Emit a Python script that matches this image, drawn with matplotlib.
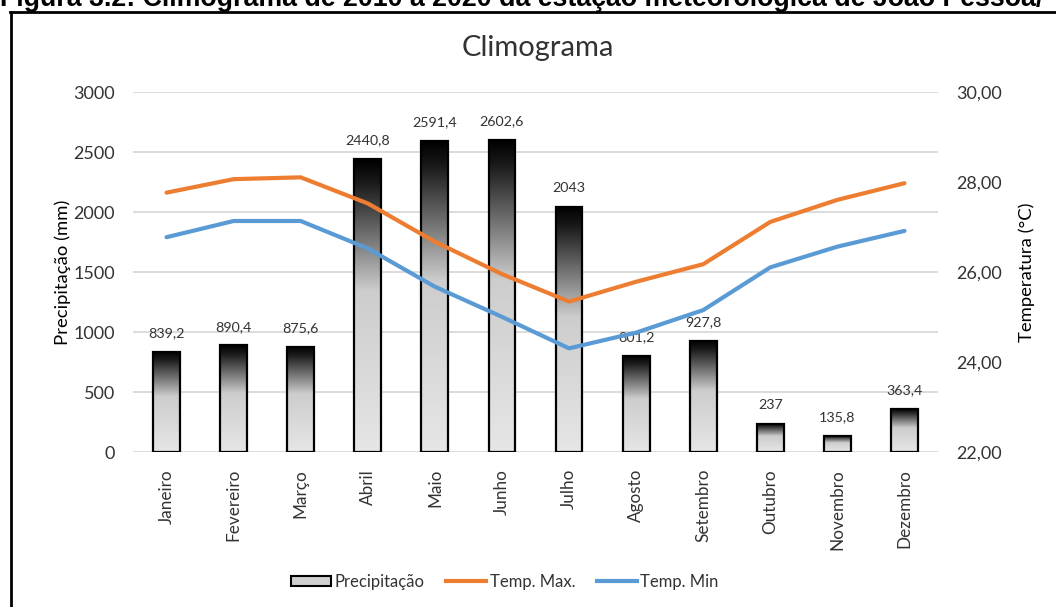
import matplotlib
matplotlib.use("Agg")
import matplotlib.pyplot as plt
import numpy as np
from matplotlib.colors import LinearSegmentedColormap
from matplotlib.lines import Line2D
from matplotlib.patches import Patch

meses = ["Janeiro", "Fevereiro", "Março", "Abril", "Maio", "Junho", "Julho",
         "Agosto", "Setembro", "Outubro", "Novembro", "Dezembro"]
precipitacao = [839.2, 890.4, 875.6, 2440.8, 2591.4, 2602.6, 2043,
                801.2, 927.8, 237, 135.8, 363.4]
rotulos_prec = ["839,2", "890,4", "875,6", "2440,8", "2591,4", "2602,6", "2043",
                "801,2", "927,8", "237", "135,8", "363,4"]
temp_max = [27.77, 28.07, 28.11, 27.53, 26.68, 25.96, 25.35,
            25.79, 26.18, 27.12, 27.61, 27.98]
temp_min = [26.78, 27.14, 27.14, 26.53, 25.68, 25.01, 24.31,
            24.66, 25.16, 26.11, 26.57, 26.92]
prec_ticks = [0, 500, 1000, 1500, 2000, 2500, 3000]
temp_ticks = [22, 24, 26, 28, 30]
temp_tick_labels = ["22,00", "24,00", "26,00", "28,00", "30,00"]

W, H = 1056, 607
fig = plt.figure(figsize=(W / 100, H / 100), dpi=100)
fig.patch.set_facecolor("white")
plt.rcParams["font.family"] = ["Lato", "DejaVu Sans"]
txt = "#333333"

ax = fig.add_axes([133 / W, 1 - 452.3 / H, (938 - 133) / W, 360 / H])
ax2 = ax.twinx()

x = np.arange(len(meses))
bars = ax.bar(x, precipitacao, width=0.4, facecolor="none",
              edgecolor="black", linewidth=1.6, zorder=3)

cmap = LinearSegmentedColormap.from_list(
    "g", [(0.0, "#000000"), (0.08, "#1a1a1a"), (0.28, "#7a7a7a"),
          (0.45, "#cdcdcd"), (1.0, "#e6e6e6")])
grad = np.linspace(0, 1, 256).reshape(-1, 1)
for b in bars:
    bx, bw, bh = b.get_x(), b.get_width(), b.get_height()
    im = ax.imshow(grad, cmap=cmap, extent=[bx, bx + bw, 0, bh],
                   origin="upper", aspect="auto", zorder=2, vmin=0, vmax=1)
    im.set_clip_path(b)

for xi, v, lab in zip(x, precipitacao, rotulos_prec):
    ax.annotate(lab, (xi, v), xytext=(0, 13.5), textcoords="offset points",
                ha="center", va="center", fontsize=10.3, color=txt)

ax.set_xlim(-0.5, len(meses) - 0.5)
ax.set_ylim(0, 3000)
ax.set_yticks(prec_ticks)
ax.set_yticklabels([str(t) for t in prec_ticks], fontsize=13, color=txt)
ax.set_xticks(x)
ax.set_xticklabels(meses, rotation=90, fontsize=12.3, color=txt)
ax.tick_params(axis="both", length=0)
ax.tick_params(axis="y", pad=13)
ax.tick_params(axis="x", pad=12)
ax.grid(axis="y", color="#d9d9d9", linewidth=1.3, zorder=0)
ax.set_axisbelow(True)
for s in ax.spines.values():
    s.set_visible(False)
ax.set_ylabel("Precipitação (mm)", fontsize=13.3, color="black", labelpad=2)

ax2.plot(x, temp_max, color="#ED7D31", linewidth=3, solid_capstyle="round",
         label="Temp. Max.")
ax2.plot(x, temp_min, color="#5B9BD5", linewidth=3, solid_capstyle="round",
         label="Temp. Min")
ax2.set_ylim(22, 30)
ax2.set_yticks(temp_ticks)
ax2.set_yticklabels(temp_tick_labels, fontsize=13, color=txt)
ax2.tick_params(axis="y", length=0, pad=13)
for s in ax2.spines.values():
    s.set_visible(False)
ax2.set_ylabel("Temperatura (°C)", fontsize=13.3, color="black", labelpad=12)

fig.text(538 / W, 1 - 48 / H, "Climograma", ha="center", va="center",
         fontsize=21, color="#333333")

handles = [Patch(facecolor="#cfcfcf", edgecolor="black", linewidth=1.5),
           Line2D([0], [0], color="#ED7D31", linewidth=3),
           Line2D([0], [0], color="#5B9BD5", linewidth=3)]
fig.legend(handles, ["Precipitação", "Temp. Max.", "Temp. Min"],
           loc="center", bbox_to_anchor=(505 / W, 1 - 582 / H), ncol=3,
           frameon=False, fontsize=12, handlelength=2.4, handleheight=0.6,
           handletextpad=0.2, columnspacing=1.3, labelcolor=txt)

# caption (cut off at top, as in the source)
cap = fig.text(0, 1 - 6.5 / H, "Figura 3.2: Climograma de 2010 a 2020 da estação meteorológica de João Pessoa/",
               ha="left", va="baseline", fontsize=17, fontweight="bold",
               family="Liberation Sans", color="black")
fig.canvas.draw()
wpx = cap.get_window_extent().width
cap.set_fontsize(17 * 1050 / wpx)

# frame
fig.add_artist(Line2D([10 / W, 1], [1 - 11.5 / H, 1 - 11.5 / H],
                      color="black", linewidth=2, transform=fig.transFigure))
fig.add_artist(Line2D([10.5 / W, 10.5 / W], [0, 1 - 11.5 / H],
                      color="black", linewidth=2, transform=fig.transFigure))

fig.savefig("out.png", dpi=100)
